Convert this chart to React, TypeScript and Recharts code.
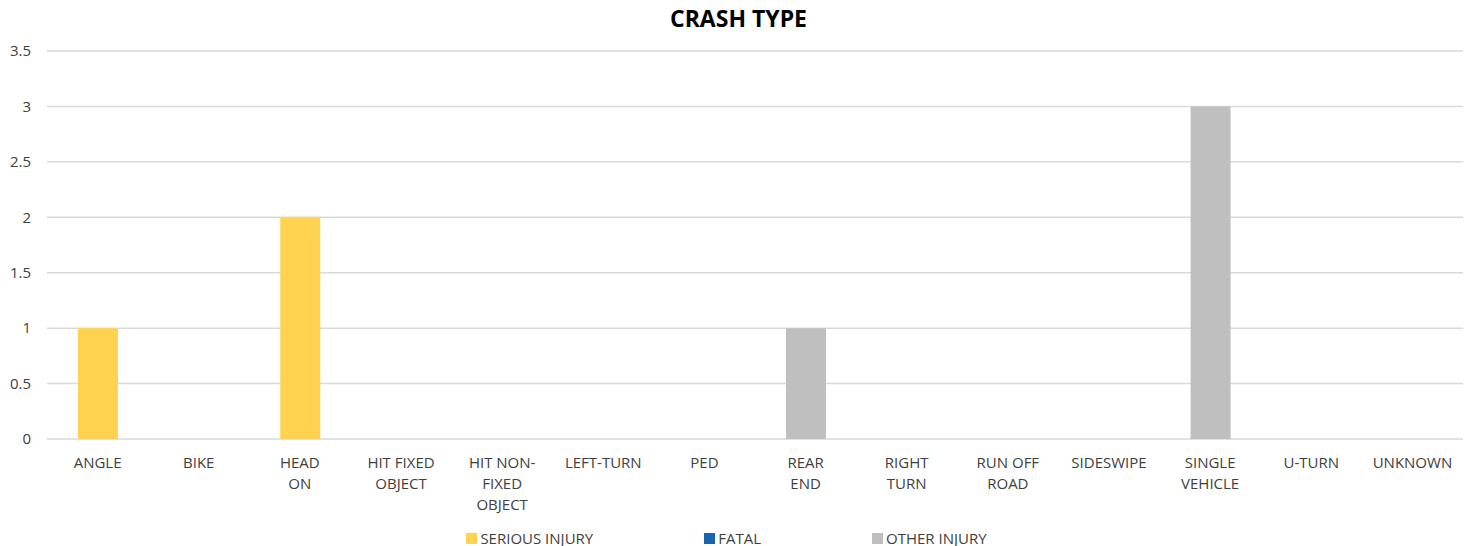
import React from 'react';
import { BarChart, Bar, XAxis, YAxis, CartesianGrid, Legend } from 'recharts';

// tick labels use '|' where the original wraps to a new line
const categories = [
  'ANGLE', 'BIKE', 'HEAD|ON', 'HIT FIXED|OBJECT', 'HIT NON-|FIXED|OBJECT', 'LEFT-TURN', 'PED',
  'REAR|END', 'RIGHT|TURN', 'RUN OFF|ROAD', 'SIDESWIPE', 'SINGLE|VEHICLE', 'U-TURN', 'UNKNOWN',
];
const seriousInjury = [1, 0, 2, 0, 0, 0, 0, 0, 0, 0, 0, 0, 0, 0];
const fatal = [0, 0, 0, 0, 0, 0, 0, 0, 0, 0, 0, 0, 0, 0];
const otherInjury = [0, 0, 0, 0, 0, 0, 0, 1, 0, 0, 0, 3, 0, 0];
const yTicks = [0, 0.5, 1, 1.5, 2, 2.5, 3, 3.5];

const series = [
  { key: 'serious', name: 'SERIOUS INJURY', color: '#FFD34F' },
  { key: 'fatal', name: 'FATAL', color: '#1764B0' },
  { key: 'other', name: 'OTHER INJURY', color: '#BFBFBF' },
];

const data = categories.map((c, i) => ({
  name: c,
  serious: seriousInjury[i],
  fatal: fatal[i],
  other: otherInjury[i],
}));

const FONT = '"Open Sans", sans-serif';

const WrappedTick = (props: any) => {
  const { x, y, payload } = props;
  const lines = String(payload.value).split('|');
  return (
    <text x={x} y={y} textAnchor="middle" fill="#404040" fontSize={15} fontFamily={FONT}>
      {lines.map((l, i) => (
        <tspan key={i} x={x} dy={21}>{l}</tspan>
      ))}
    </text>
  );
};

const LegendContent = () => (
  <div style={{ display: 'flex', justifyContent: 'center', gap: 111, marginLeft: -10, height: 20, lineHeight: '20px', fontFamily: FONT, fontSize: 15, color: '#404040' }}>
    {series.map(s => (
      <div key={s.key} style={{ display: 'flex', alignItems: 'center' }}>
        <span style={{ width: 11, height: 11, background: s.color, display: 'inline-block', marginRight: 3 }} />
        {s.name}
      </div>
    ))}
  </div>
);

export default function App() {
  return (
    <div style={{ position: 'absolute', left: 0, top: 0, width: 1470, height: 546, background: '#fff' }}>
      <div style={{ position: 'absolute', top: 2, width: 1477, textAlign: 'center', fontFamily: FONT, fontWeight: 700, fontSize: 23, color: '#000' }}>
        CRASH TYPE
      </div>
      <BarChart width={1470} height={546} data={data} margin={{ top: 51, right: 7, left: 0, bottom: 57 }} barSize={40}>
        <CartesianGrid vertical={false} stroke="#D9D9D9" strokeWidth={1.5} />
        <XAxis dataKey="name" height={30} axisLine={false} tickLine={false} tick={<WrappedTick />} interval={0} />
        <YAxis
          domain={[0, 3.5]}
          ticks={yTicks}
          width={47}
          axisLine={false}
          tickLine={false}
          tickSize={0}
          tickMargin={16}
          tick={{ fill: '#404040', fontSize: 15, fontFamily: FONT }}
        />
        <Legend verticalAlign="bottom" content={<LegendContent />} wrapperStyle={{ bottom: -2 }} />
        {series.map(s => (
          <Bar key={s.key} dataKey={s.key} name={s.name} stackId="a" fill={s.color} isAnimationActive={false} />
        ))}
      </BarChart>
    </div>
  );
}
